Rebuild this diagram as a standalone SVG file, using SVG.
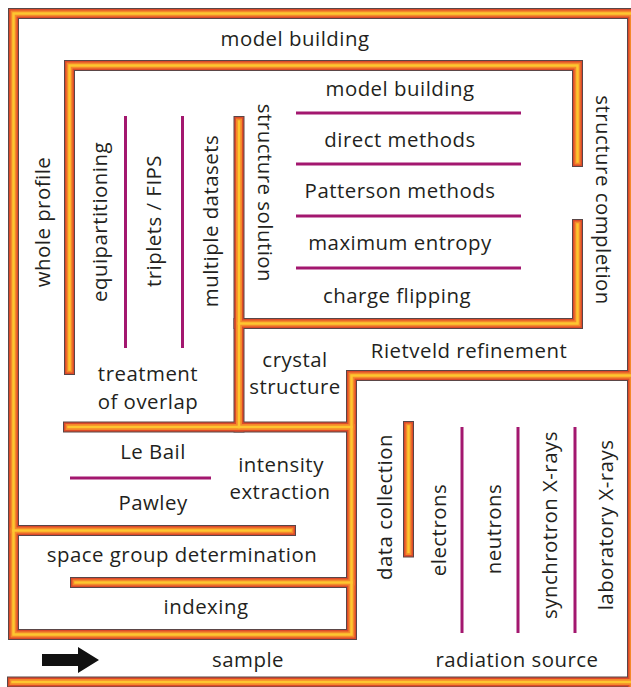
<svg xmlns="http://www.w3.org/2000/svg" xmlns:xlink="http://www.w3.org/1999/xlink" width="631" height="687" viewBox="0 0 631 687">
<style>
text{font-family:"Open Sans","Liberation Sans",sans-serif;font-size:20.4px;fill:#231f20;text-anchor:middle;letter-spacing:0.5px}
.w{fill:none;stroke-linejoin:miter;stroke-linecap:square}
.w0{stroke:#5a4646;stroke-width:11}
.w1{stroke:#dc4a2a;stroke-width:9}
.w2{stroke:#f4892a;stroke-width:6}
.w3{stroke:#fdc630;stroke-width:2.5}
.div{stroke:#a3176f;stroke-width:3;fill:none}
</style>
<defs>
<g id="walls">
<path d="M632.5 690V13.5H13.5V634.5H351.5V375.5H632.5"/>
<path d="M12.5 682H640"/>
<path d="M69.5 369.5V65.5H577.5V161.5"/>
<path d="M577.5 224.5V323.5H239"/>
<path d="M239 121.5V427"/>
<path d="M68.5 427H351.5"/>
<path d="M13.5 530.5H290.5"/>
<path d="M75.5 582.5H351.5"/>
<path d="M408.5 426.5V552"/>
</g>
</defs>
<rect width="631" height="687" fill="#fff"/>
<g id="connectors">
<use xlink:href="#walls" class="w w0"/>
<use xlink:href="#walls" class="w w1"/>
<use xlink:href="#walls" class="w w2"/>
<use xlink:href="#walls" class="w w3"/>
</g>
<g id="dividers">
<path class="div" d="M125.5 116V348M182.5 116V348"/>
<path class="div" d="M296 113H521M296 164H521M296 216H521M296 268H521"/>
<path class="div" d="M70 478H211"/>
<path class="div" d="M462 427V633M518 427V633M575 427V633"/>
</g>
<g id="arrow"><path d="M42 654H78V647L99 660L78 673V666H42Z" fill="#111"/></g>
<g id="n-model-building-outer"><text x="295" y="46">model building</text></g>
<g id="n-structure-solution-methods">
<text x="400" y="96">model building</text>
<text x="400" y="147">direct methods</text>
<text x="400" y="198">Patterson methods</text>
<text x="400" y="250">maximum entropy</text>
<text x="397" y="303">charge flipping</text>
</g>
<g id="n-structure-solution"><text transform="translate(258,193) rotate(90)">structure solution</text></g>
<g id="n-structure-completion"><text transform="translate(596,200) rotate(90)">structure completion</text></g>
<g id="n-whole-profile"><text transform="translate(50,222) rotate(-90)">whole profile</text></g>
<g id="n-equipartitioning"><text transform="translate(107,222) rotate(-90)">equipartitioning</text></g>
<g id="n-triplets"><text transform="translate(161,221) rotate(-90)">triplets / FIPS</text></g>
<g id="n-multiple-datasets"><text transform="translate(218,221) rotate(-90)">multiple datasets</text></g>
<g id="n-treatment"><text x="148" y="381">treatment</text><text x="148" y="409">of overlap</text></g>
<g id="n-crystal-structure"><text x="295" y="367">crystal</text><text x="295" y="394">structure</text></g>
<g id="n-rietveld"><text x="469" y="358">Rietveld refinement</text></g>
<g id="n-lebail"><text x="153" y="459">Le Bail</text><text x="153" y="510">Pawley</text></g>
<g id="n-intensity"><text x="281" y="472">intensity</text><text x="280" y="499">extraction</text></g>
<g id="n-space-group"><text x="182" y="562">space group determination</text></g>
<g id="n-indexing"><text x="206" y="614">indexing</text></g>
<g id="n-data-collection"><text transform="translate(392,507) rotate(-90)">data collection</text></g>
<g id="n-electrons"><text transform="translate(446,530) rotate(-90)">electrons</text></g>
<g id="n-neutrons"><text transform="translate(501,529) rotate(-90)">neutrons</text></g>
<g id="n-synchrotron"><text transform="translate(557,525) rotate(-90)">synchrotron X-rays</text></g>
<g id="n-laboratory"><text transform="translate(613,525) rotate(-90)">laboratory X-rays</text></g>
<g id="n-sample"><text x="248" y="667">sample</text></g>
<g id="n-radiation"><text x="517" y="667">radiation source</text></g>
</svg>
